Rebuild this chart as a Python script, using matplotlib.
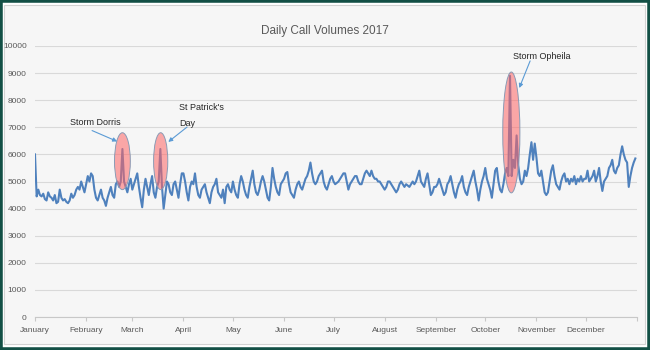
import numpy as np
import matplotlib
matplotlib.use("Agg")
import matplotlib.pyplot as plt
from matplotlib.patches import Ellipse, Rectangle

# Daily call counts for 2017, one list per month
jan = [6000, 4450, 4700, 4500, 4450, 4550, 4350,
       4300, 4600, 4450, 4400, 4300, 4500, 4200,
       4250, 4700, 4400, 4300, 4350, 4250, 4200,
       4300, 4550, 4400, 4500, 4700, 4800, 4700,
       5000, 4800, 4600]
feb = [4900, 5200, 5000, 5300, 5200, 4700, 4400,
       4300, 4500, 4700, 4400, 4300, 4100, 4400,
       4600, 4800, 4500, 4400, 4900, 5000, 4800,
       5000, 6200, 5000, 4800, 4600, 4900, 5100]
mar = [4700, 4900, 5100, 5300, 4800, 4400, 4050,
       4700, 5100, 4800, 4500, 4900, 5200, 4600,
       4400, 4800, 5000, 6200, 4800, 4000, 4500,
       5000, 4900, 4600, 4500, 4900, 5000, 4700,
       4400, 4900, 5300]
apr = [5300, 5000, 4600, 4300, 4800, 5000, 4900,
       5300, 4800, 4500, 4400, 4700, 4800, 4900,
       4600, 4400, 4200, 4600, 4800, 4900, 5100,
       4600, 4500, 4400, 4700, 4200, 4800, 4900,
       4700, 4600]
may = [5000, 4700, 4500, 4400, 4900, 5200, 5000,
       4700, 4500, 4400, 4800, 5100, 5400, 4900,
       4600, 4500, 4700, 5000, 5200, 5000, 4700,
       4400, 4300, 4800, 5500, 5100, 4800, 4600,
       4500, 4900, 5000]
jun = [5100, 5300, 5350, 4900, 4600, 4500, 4400,
       4700, 4900, 5000, 4800, 4700, 4900, 5100,
       5200, 5400, 5700, 5300, 5000, 4900, 5000,
       5200, 5300, 5400, 5000, 4800, 4700, 4900,
       5100, 5200]
jul = [5000, 4900, 4950, 5000, 5100, 5200, 5300,
       5300, 5000, 4700, 4900, 5000, 5100, 5200,
       5200, 5000, 4900, 4900, 5100, 5300, 5400,
       5300, 5200, 5400, 5200, 5100, 5100, 5000,
       5000, 4900, 4800]
aug = [4700, 4800, 5000, 5000, 4900, 4800, 4700,
       4600, 4700, 4900, 5000, 4900, 4800, 4900,
       4850, 4800, 4900, 5000, 4900, 5000, 5200,
       5400, 5000, 4900, 4800, 5100, 5300, 4900,
       4500, 4600, 4800]
sep = [4800, 4900, 5100, 4900, 4700, 4500, 4600,
       4900, 5000, 5200, 4900, 4600, 4400, 4700,
       4900, 5000, 5200, 4800, 4600, 4500, 4800,
       5000, 5200, 5400, 5000, 4700, 4300, 4700,
       5000, 5200]
oct_ = [5500, 5100, 4900, 4700, 4400, 4900, 5400,
        5500, 5000, 4700, 4600, 4900, 5300, 5500,
        5200, 8900, 5200, 5800, 5500, 6700, 5600,
        5100, 4900, 5000, 5400, 5200, 5500, 6000,
        6450, 5800, 6400]
nov = [5900, 5300, 5200, 5400, 5000, 4600, 4500,
       4600, 5000, 5400, 5600, 5200, 4900, 4800,
       4700, 5000, 5200, 5300, 5000, 5100, 4900,
       5100, 5000, 5200, 4900, 5100, 5000, 5200,
       5000, 5100]
dec = [5100, 5400, 5000, 5100, 5200, 5400, 5000,
       5200, 5500, 5000, 4650, 5000, 5100, 5200,
       5500, 5600, 5800, 5400, 5300, 5500, 5600,
       6000, 6300, 6000, 5800, 5700, 4800, 5200,
       5500, 5700, 5850]

months = ["January", "February", "March", "April", "May", "June", "July",
          "August", "September", "October", "November", "December"]
month_days = [jan, feb, mar, apr, may, jun, jul, aug, sep, oct_, nov, dec]

# Highlighted events: (label, centre day, centre value, width in days, height in calls)
events = [
    ("Storm Dorris", 53.0, 5750, 9.6, 2100),
    ("St Patrick's\nDay", 76.2, 5750, 8.6, 2100),
    ("Storm Opheila", 288.8, 6810, 10.4, 4460),
]

calls = np.concatenate([np.array(m, dtype=float) for m in month_days])
days = np.arange(len(calls))
month_starts = np.cumsum([0] + [len(m) for m in month_days])

LABEL_FONT = ["Liberation Sans Narrow", "Liberation Sans", "DejaVu Sans"]
GREY_TEXT = "#595959"

fig = plt.figure(figsize=(6.5, 3.5), dpi=100)
fig.patch.set_facecolor("white")

# chart panel and dark outer frame
W, H = 650.0, 350.0
fig.patches.append(Rectangle((4 / W, 6 / H), 641 / W, 339 / H,
                             transform=fig.transFigure, facecolor="#f6f6f6",
                             edgecolor="#d2d2d2", linewidth=0.8, zorder=-2))
fig.patches.append(Rectangle((0, 0), 1, 1, transform=fig.transFigure,
                             fill=False, edgecolor="#124f45", linewidth=4,
                             zorder=10))

ax = fig.add_axes([35 / W, 1 - 317 / H, 602 / W, 271 / H])
ax.set_facecolor("none")

ax.plot(days, calls, color="#4f81bd", linewidth=1.5, solid_joinstyle="round",
        zorder=2)

ax.set_xlim(0, month_starts[-1])
ax.set_ylim(0, 10000)
ax.set_yticks(np.arange(0, 10001, 1000))
ax.set_xticks(month_starts)
ax.set_xticklabels(months + [""])

ax.yaxis.grid(True, color="#d9d9d9", linewidth=0.8)
ax.set_axisbelow(True)
for side in ("left", "right", "top"):
    ax.spines[side].set_visible(False)
ax.spines["bottom"].set_color("#c8c8c8")
ax.spines["bottom"].set_linewidth(0.8)

ax.tick_params(axis="x", length=3, width=0.8, color="#c8c8c8",
               labelsize=6, labelcolor=GREY_TEXT, pad=4)
ax.tick_params(axis="y", length=0, labelsize=6, labelcolor=GREY_TEXT, pad=6)
for lbl in ax.get_xticklabels() + ax.get_yticklabels():
    lbl.set_family(LABEL_FONT)

fig.text(324.5 / W, 1 - 31 / H, "Daily Call Volumes 2017", ha="center",
         va="center", fontsize=8.5, color=GREY_TEXT, family=LABEL_FONT)

# event ellipses
for name, cx, cy, w, h in events:
    ax.add_patch(Ellipse((cx, cy), w, h, facecolor="#ff6464", alpha=0.55,
                         edgecolor="none", zorder=3))
    ax.add_patch(Ellipse((cx, cy), w, h, facecolor="none",
                         edgecolor="#8a9bb5", linewidth=0.7, zorder=3))

# callout labels and arrows: (text, text pos, text align, arrow tail, arrow tip)
callouts = [
    ("Storm Dorris", (36.4, 7160), "center", (34.6, 6880), (49.8, 6480)),
    ("St Patrick's\nDay", (87.3, 7430), "left", (92.2, 7010), (80.8, 6460)),
    ("Storm Opheila", (307.5, 9630), "center", (300.2, 9450), (293.6, 8450)),
]
for text, pos, align, tail, tip in callouts:
    ax.text(pos[0], pos[1], text, ha=align, va="center", fontsize=6.5,
            color="#262626", family=LABEL_FONT, linespacing=1.9, zorder=5)
    ax.annotate("", xy=tip, xytext=tail,
                arrowprops=dict(arrowstyle="-|>", color="#5b9bd5", lw=0.8,
                                mutation_scale=6, shrinkA=0, shrinkB=0),
                zorder=5)

fig.savefig("out.png", dpi=100, facecolor=fig.get_facecolor())
